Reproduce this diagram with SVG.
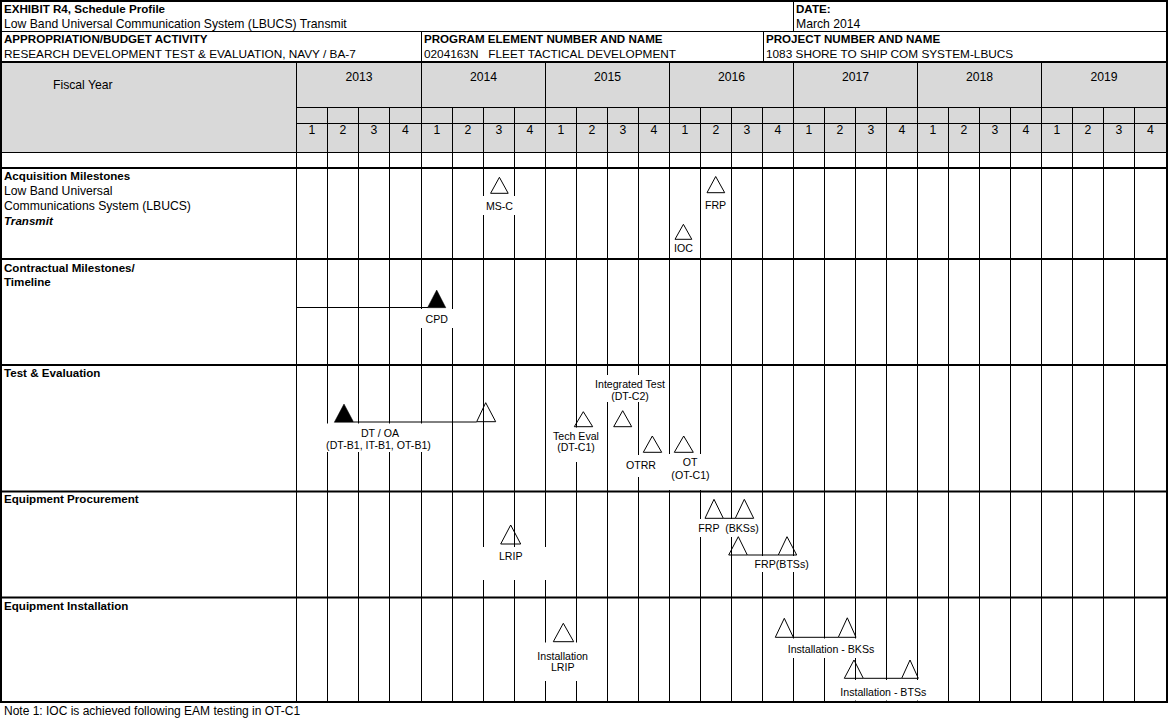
<svg xmlns="http://www.w3.org/2000/svg" width="1169" height="720" viewBox="0 0 1169 720">
<style>
text{font-family:"Liberation Sans",Arial,sans-serif;fill:#000}
.b{font-weight:bold;font-size:11.6px}
.bi{font-weight:bold;font-style:italic;font-size:11.6px}
.r{font-size:12.2px;white-space:pre}
.u{font-size:11.8px;white-space:pre}
.c{font-size:12.2px;text-anchor:middle}
.s{font-size:10.6px;text-anchor:middle;white-space:pre}
.thin{stroke:#000;stroke-width:1;fill:none}
.thick{stroke:#000;stroke-width:2;fill:none}
.tri{fill:none;stroke:#000;stroke-width:1}
.trif{fill:#000;stroke:#000;stroke-width:0.5}
.box{fill:#fff}
.con{stroke:#000;stroke-width:1}
</style>
<rect x="0" y="0" width="1169" height="720" fill="#fff"/>
<g id="grid">
<rect x="0" y="62" width="1167" height="90" fill="#d9d9d9"/>
<path class="thin" d="M327.5 107V702M358.5 107V702M389.5 107V702M452.5 107V702M483.5 107V702M514.5 107V702M576.5 107V702M607.5 107V702M638.5 107V702M700.5 107V702M731.5 107V702M762.5 107V702M824.5 107V702M855.5 107V702M886.5 107V702M948.5 107V702M979.5 107V702M1010.5 107V702M1072.5 107V702M1103.5 107V702M1134.5 107V702"/>
<path class="thin" d="M296.5 62V702M421.5 62V702M545.5 62V702M669.5 62V702M793.5 62V702M917.5 62V702M1041.5 62V702"/>
<path class="thin" d="M793.5 0V31M421.5 31V62M763.5 31V62"/>
<path class="thin" d="M0 31.5H1168M296 107.5H1167M296 123.5H1167M0 152.5H1167"/>
<path class="thick" d="M0 62H1168M0 168H1168M0 259H1168M0 365H1168M0 491.5H1168M0 597.5H1168"/>
<rect class="thick" x="1" y="1" width="1166" height="701"/>
</g>
<g id="header">
<text class="b" x="4" y="12.5">EXHIBIT R4, Schedule Profile</text>
<text class="r" x="4" y="27.5">Low Band Universal Communication System (LBUCS) Transmit</text>
<text class="b" x="796" y="12.5">DATE:</text>
<text class="r" x="796" y="27.5">March 2014</text>
<text class="b" x="4" y="43">APPROPRIATION/BUDGET ACTIVITY</text>
<text class="u" x="4" y="58">RESEARCH DEVELOPMENT TEST &amp; EVALUATION, NAVY / BA-7</text>
<text class="b" x="424" y="43">PROGRAM ELEMENT NUMBER AND NAME</text>
<text class="u" x="424" y="58">0204163N   FLEET TACTICAL DEVELOPMENT</text>
<text class="b" x="766" y="43">PROJECT NUMBER AND NAME</text>
<text class="u" x="766" y="58">1083 SHORE TO SHIP COM SYSTEM-LBUCS</text>
<text class="r" x="53" y="89.3">Fiscal Year</text>
<text class="c" x="359" y="81">2013</text>
<text class="c" x="483.5" y="81">2014</text>
<text class="c" x="607.5" y="81">2015</text>
<text class="c" x="731.5" y="81">2016</text>
<text class="c" x="855.5" y="81">2017</text>
<text class="c" x="979.5" y="81">2018</text>
<text class="c" x="1104" y="81">2019</text>
<g class="c">
<text class="c" x="312" y="134.3">1</text><text class="c" x="343" y="134.3">2</text><text class="c" x="374" y="134.3">3</text><text class="c" x="405.5" y="134.3">4</text>
<text class="c" x="437" y="134.3">1</text><text class="c" x="468" y="134.3">2</text><text class="c" x="499" y="134.3">3</text><text class="c" x="530" y="134.3">4</text>
<text class="c" x="561" y="134.3">1</text><text class="c" x="592" y="134.3">2</text><text class="c" x="623" y="134.3">3</text><text class="c" x="654" y="134.3">4</text>
<text class="c" x="685" y="134.3">1</text><text class="c" x="716" y="134.3">2</text><text class="c" x="747" y="134.3">3</text><text class="c" x="778" y="134.3">4</text>
<text class="c" x="809" y="134.3">1</text><text class="c" x="840" y="134.3">2</text><text class="c" x="871" y="134.3">3</text><text class="c" x="902" y="134.3">4</text>
<text class="c" x="933" y="134.3">1</text><text class="c" x="964" y="134.3">2</text><text class="c" x="995" y="134.3">3</text><text class="c" x="1026" y="134.3">4</text>
<text class="c" x="1057" y="134.3">1</text><text class="c" x="1088" y="134.3">2</text><text class="c" x="1119" y="134.3">3</text><text class="c" x="1150.5" y="134.3">4</text>
</g>
</g>
<g id="sections">
<text class="b" x="4" y="179.8">Acquisition Milestones</text>
<text class="r" x="4" y="195">Low Band Universal</text>
<text class="r" x="4" y="209.8">Communications System (LBUCS)</text>
<text class="bi" x="4" y="224.8">Transmit</text>
<text class="b" x="4" y="271.5">Contractual Milestones/</text>
<text class="b" x="4" y="286">Timeline</text>
<text class="b" x="4" y="376.5">Test &amp; Evaluation</text>
<text class="b" x="4" y="503">Equipment Procurement</text>
<text class="b" x="4" y="610">Equipment Installation</text>
</g>
<g id="connectors">
<line class="con" x1="296.5" y1="307.5" x2="428" y2="307.5"/>
<line class="con" x1="353.7" y1="422" x2="476.7" y2="422"/>
<line class="con" x1="723.3" y1="518.3" x2="735.3" y2="518.3"/>
<line class="con" x1="747.3" y1="555" x2="778.3" y2="555"/>
<line class="con" x1="793.3" y1="637.3" x2="838.3" y2="637.3"/>
<line class="con" x1="863.3" y1="678.3" x2="901.7" y2="678.3"/>
</g>
<g id="ms-c">
<rect class="box" x="483" y="196" width="32" height="19"/>
<polygon class="tri" points="499.4,177.3 490.6,193.3 508.2,193.3"/>
<text class="s" x="499.5" y="209.7">MS-C</text>
</g>
<g id="frp-acq">
<polygon class="tri" points="715.7,176.5 707,192.7 724.7,192.7"/>
<text class="s" x="715.5" y="208.7">FRP</text>
</g>
<g id="ioc">
<polygon class="tri" points="683.4,224.3 675,239.3 691.8,239.3"/>
<text class="s" x="683.5" y="251.7">IOC</text>
</g>
<g id="cpd">
<rect class="box" x="420" y="309" width="33" height="19"/>
<polygon class="trif" points="436.7,290 427.5,307.7 445.8,307.7"/>
<text class="s" x="436.7" y="323">CPD</text>
</g>
<g id="dt-oa">
<rect class="box" x="322" y="423.5" width="114" height="28.5"/>
<polygon class="trif" points="344,404 334.3,422.3 353.7,422.3"/>
<polygon class="tri" points="485.7,402.7 476.7,421.7 495.7,421.7"/>
<text class="s" x="380" y="437">DT / OA</text>
<text class="s" x="378.5" y="448.7">(DT-B1, IT-B1, OT-B1)</text>
</g>
<g id="tech-eval">
<rect class="box" x="550" y="427.5" width="52" height="34.5"/>
<polygon class="tri" points="583.3,411.7 574.3,426.7 592.7,426.7"/>
<text class="s" x="576" y="439.7">Tech Eval</text>
<text class="s" x="576" y="450.7">(DT-C1)</text>
</g>
<g id="integrated-test">
<rect class="box" x="592" y="375" width="76" height="27"/>
<polygon class="tri" points="622.7,410.7 613.7,426.7 631.7,426.7"/>
<text class="s" x="630" y="387.7">Integrated Test</text>
<text class="s" x="630" y="400.4">(DT-C2)</text>
</g>
<g id="otrr">
<rect class="box" x="622" y="455" width="39" height="22"/>
<polygon class="tri" points="652.3,436 643.3,452.3 661.7,452.3"/>
<text class="s" x="641" y="468.7">OTRR</text>
</g>
<g id="ot">
<rect class="box" x="667" y="454" width="41" height="36"/>
<polygon class="tri" points="683.7,436 674.3,452.3 693.3,452.3"/>
<text class="s" x="690" y="466.4">OT</text>
<text class="s" x="690.5" y="478.7">(OT-C1)</text>
</g>
<g id="lrip">
<rect class="box" x="481" y="547" width="67" height="33"/>
<polygon class="tri" points="510.7,525 500.7,544 520.7,544"/>
<text class="s" x="510.7" y="560.4">LRIP</text>
</g>
<g id="frp-bkss">
<rect class="box" x="698" y="519" width="62" height="18"/>
<polygon class="tri" points="714,499.3 705,518.3 723.3,518.3"/>
<polygon class="tri" points="744.3,499.3 735.3,518.3 753.7,518.3"/>
<text class="s" x="728.5" y="532">FRP  (BKSs)</text>
</g>
<g id="frp-btss">
<rect class="box" x="754" y="556" width="56" height="16"/>
<polygon class="tri" points="738.3,536.7 728.7,555 747.3,555"/>
<polygon class="tri" points="787,536.7 778.3,555 796.7,555"/>
<text class="s" x="781.7" y="567.7">FRP(BTSs)</text>
</g>
<g id="installation-lrip">
<rect class="box" x="540" y="642.5" width="46" height="38.5"/>
<polygon class="tri" points="563.3,623.3 553.3,641.7 573.7,641.7"/>
<text class="s" x="562.7" y="660">Installation</text>
<text class="s" x="562.7" y="671.4">LRIP</text>
</g>
<g id="installation-bkss">
<rect class="box" x="785" y="638.5" width="92" height="19.5"/>
<polygon class="tri" points="784.3,618.3 775.3,637.3 793.3,637.3"/>
<polygon class="tri" points="847.3,617.8 838.3,637.3 856,637.3"/>
<text class="s" x="831" y="652.7">Installation - BKSs</text>
</g>
<g id="installation-btss">
<rect class="box" x="838" y="680" width="91" height="20.5"/>
<polygon class="tri" points="854,660 844.3,678.3 863.3,678.3"/>
<polygon class="tri" points="910,660 901.7,678.3 918.3,678.3"/>
<text class="s" x="883.3" y="696">Installation - BTSs</text>
</g>
<g id="note">
<text class="r" x="4" y="714.5" style="font-size:12px">Note 1: IOC is achieved following EAM testing in OT-C1</text>
</g>
</svg>
